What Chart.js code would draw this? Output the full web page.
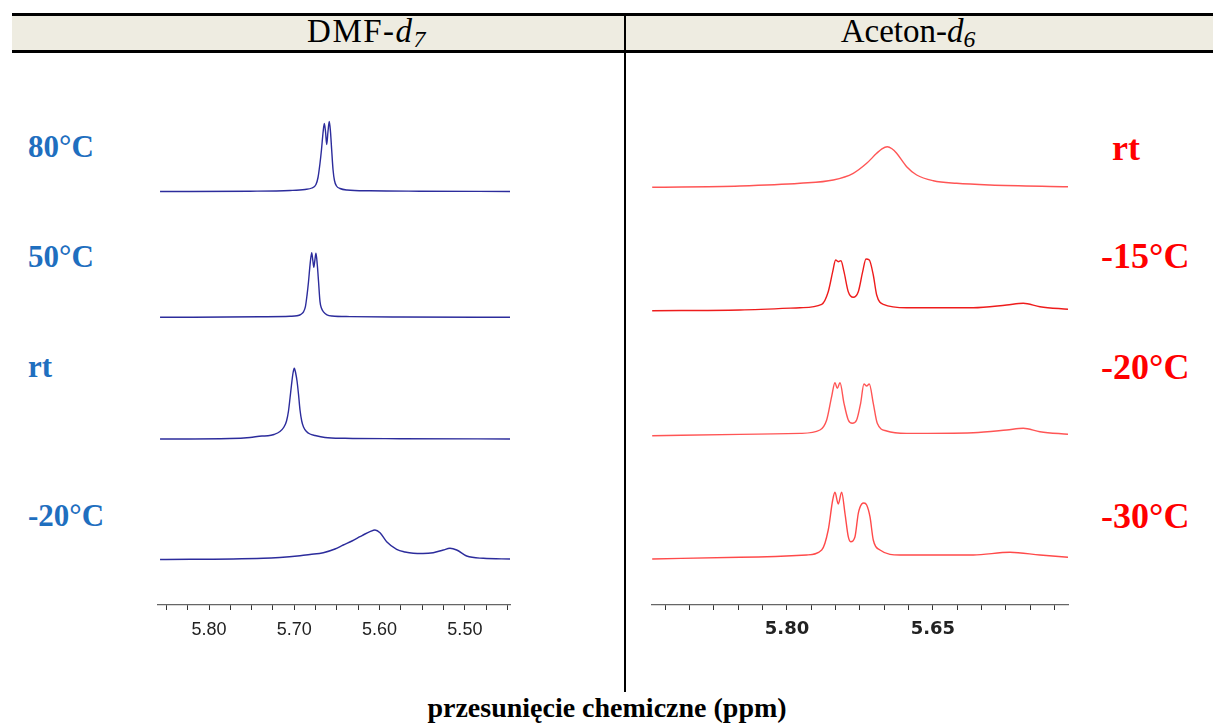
<!DOCTYPE html>
<html>
<head>
<meta charset="utf-8">
<script src="https://cdn.jsdelivr.net/npm/chart.js@4.4.1/dist/chart.umd.min.js"></script>
<style>
  html, body { margin:0; padding:0; background:#fff; }
  body { width:1213px; height:725px; position:relative; overflow:hidden; font-family:'Liberation Serif','Times New Roman',serif; }
  .abs { position:absolute; }
  #hdr { left:12px; top:13px; width:1201px; height:34px; background:#eeece1; border-top:3px solid #000; border-bottom:3px solid #000; }
  #vdiv { left:624px; top:16px; width:2px; height:676px; background:#000; }
  .ht { font-size:33px; line-height:1; color:#000; white-space:nowrap; transform:translateX(-50%); top:15px; }
  .ht sub { font-size:0.72em; vertical-align:-0.2em; line-height:0; }
  .lab { font-weight:bold; line-height:1; white-space:nowrap; }
  .blue { color:#1f6fbf; font-size:31px; }
  .red { color:#ff0000; font-size:36px; }
  #xt { font-weight:bold; font-size:28px; line-height:1; white-space:nowrap; transform:translateX(-50%); left:607px; top:694px; color:#000; }
  canvas { position:absolute; }
</style>
</head>
<body>
<div id="hdr" class="abs"></div>
<div id="vdiv" class="abs"></div>
<div class="abs ht" style="left:367px; letter-spacing:1.5px;">DMF-<i>d</i><sub><i>7</i></sub></div>
<div class="abs ht" style="left:908px;">Aceton-<i>d</i><sub><i>6</i></sub></div>

<div class="abs lab blue" style="left:28px; top:131px;">80°C</div>
<div class="abs lab blue" style="left:28px; top:241px;">50°C</div>
<div class="abs lab blue" style="left:28px; top:351px;">rt</div>
<div class="abs lab blue" style="left:28px; top:500px;">-20°C</div>

<div class="abs lab red" style="left:1112px; top:130px;">rt</div>
<div class="abs lab red" style="left:1101px; top:238px;">-15°C</div>
<div class="abs lab red" style="left:1101px; top:349px;">-20°C</div>
<div class="abs lab red" style="left:1101px; top:498px;">-30°C</div>

<div id="xt" class="abs">przesunięcie chemiczne (ppm)</div>

<canvas id="cL" width="370" height="601" style="left:150px; top:60px;"></canvas>
<canvas id="cR" width="440" height="601" style="left:640px; top:60px;"></canvas>

<script>
// ---------------- DATA ----------------
// DMF-d7 spectra: chemical shift (ppm) and intensity (arbitrary units)
const dmf80_ppm = [5.8574,5.7519,5.7050,5.6875,5.6793,5.6746,5.6722,5.6699,5.6681,5.6664,5.6648,5.6634,5.6620,5.6605,5.6590,5.6576,5.6562,5.6546,5.6529,5.6505,5.6464,5.6382,5.6113,5.5526,5.4471];
const dmf80_int = [0,0.3,1,2,3.5,7,14,28,42,58,68,60,47,60,70,60,42,22,11,5.5,3,1.5,0.7,0.3,0];

const dmf50_ppm = [5.8574,5.7402,5.7050,5.6968,5.6922,5.6892,5.6869,5.6851,5.6834,5.6816,5.6796,5.6783,5.6771,5.6759,5.6746,5.6730,5.6716,5.6699,5.6681,5.6658,5.6617,5.6558,5.6347,5.5761,5.4471];
const dmf50_int = [0,0.5,1,1.5,3,5.5,11,22,35,52,64.5,57,50,57,64,52,36,16,9,5.5,2.5,1.3,0.7,0.3,0];

const dmfRt_ppm = [5.8574,5.7754,5.7519,5.7379,5.7308,5.7238,5.7168,5.7121,5.7091,5.7068,5.7050,5.7033,5.7015,5.7000,5.6984,5.6968,5.6951,5.6933,5.6913,5.6892,5.6857,5.6816,5.6757,5.6640,5.6406,5.5761,5.4471];
const dmfRt_int = [0,0.5,1.5,3,3.2,4.5,7.5,12,18,28,41,54,66,70.7,66,58,45,29,18,12,7.5,5,3.5,1.5,0.7,0.3,0];

const dmfM20_ppm = [5.8574,5.7363,5.6933,5.6816,5.6660,5.6523,5.6426,5.6324,5.6230,5.6171,5.6113,5.6054,5.5995,5.5917,5.5800,5.5702,5.5605,5.5491,5.5371,5.5253,5.5175,5.5096,5.4979,5.4784,5.4471];
const dmfM20_int = [0,1.2,3.8,5,6.8,10.5,14.5,18.5,22.8,25.5,27.8,29.5,26.8,17.8,10.2,7.5,6.2,6,6.8,9.5,11.2,9.5,3.5,1.2,0.5];

// Acetone-d6 spectra
const acRt_ppm = [5.9385,5.8483,5.7866,5.7524,5.7319,5.7181,5.7078,5.7024,5.6969,5.6921,5.6873,5.6770,5.6667,5.6496,5.6256,5.5914,5.5112];
const acRt_int = [0,1.3,4,7.3,14,24,34,38.5,40.6,38.5,34,20.6,12.3,6.6,4,2.3,0.6];

const acM15_ppm = [5.9385,5.8483,5.7866,5.7643,5.7576,5.7530,5.7500,5.7473,5.7445,5.7414,5.7370,5.7319,5.7267,5.7222,5.7188,5.7154,5.7113,5.7078,5.7010,5.6770,5.6085,5.5742,5.5572,5.5400,5.5112];
const acM15_int = [0,0.7,3,6.4,19,39,50.7,49,50,39,19,13.4,19,39,51.7,50.7,35.7,15.7,6.4,3,3,5.7,7.4,4,1.4];

const acM20_ppm = [5.9385,5.8483,5.7866,5.7661,5.7592,5.7541,5.7507,5.7483,5.7455,5.7414,5.7370,5.7329,5.7284,5.7243,5.7209,5.7181,5.7154,5.7113,5.7072,5.6975,5.6770,5.6085,5.5742,5.5572,5.5400,5.5112];
const acM20_int = [0,1.3,2.3,5.7,15.7,39,53,47.4,53,32.4,15.7,12.4,15.7,32.4,51.7,49.7,51.7,32.4,12.4,4.7,2.3,3,5.7,7.4,4,1.4];

const acM30_ppm = [5.9385,5.8483,5.7798,5.7643,5.7576,5.7530,5.7507,5.7473,5.7438,5.7404,5.7370,5.7345,5.7301,5.7267,5.7232,5.7209,5.7181,5.7147,5.7113,5.7044,5.6839,5.6085,5.5708,5.5400,5.5112];
const acM30_int = [0,1.7,4,9,29,59,66.7,55,66.7,45.7,22.3,17.3,22.3,45.7,55,56,54,42.3,19,9,4,4,6.7,4,1.7];

// Axis ticks and labels
const leftTicks  = [5.85,5.825,5.80,5.775,5.75,5.725,5.70,5.675,5.65,5.625,5.60,5.575,5.55,5.525,5.50,5.475,5.45];
const leftTickLabels = ['','','5.80','','','','5.70','','','','5.60','','','','5.50','',''];
const rightTicks = [5.925,5.90,5.875,5.85,5.825,5.80,5.775,5.75,5.725,5.70,5.675,5.65,5.625,5.60,5.575,5.55,5.525];
const rightTickLabels = ['','','','','','5.80','','','','','','5.65','','','','',''];

// ---------------- LAYOUT / STYLE ----------------
const leftRange  = { min: 5.4471, max: 5.8598 };
const rightRange = { min: 5.5112, max: 5.9387 };
const leftOffsets  = [413.5, 287.7, 166, 45.5];   // vertical stacking offsets
const rightOffsets = [417.7, 294.3, 169.3, 46];
const Y_MAX = 515;

function series(ppm, intens, off) {
  return ppm.map((p, i) => ({ x: p, y: intens[i] + off }));
}

function makeChart(id, sets, offsets, colors, range, ticks, labels, pad, tickFont) {
  const datasets = sets.map((s, i) => ({
    data: series(s[0], s[1], offsets[i]),
    borderColor: colors[i],
    borderWidth: 1.4,
    pointRadius: 0,
    fill: false,
    cubicInterpolationMode: 'monotone'
  }));
  return new Chart(document.getElementById(id), {
    type: 'line',
    data: { datasets },
    options: {
      responsive: false,
      animation: false,
      layout: { padding: pad },
      plugins: { legend: { display: false }, tooltip: { enabled: false } },
      scales: {
        x: {
          type: 'linear',
          reverse: true,
          min: range.min,
          max: range.max,
          afterBuildTicks: (axis) => { axis.ticks = ticks.map(v => ({ value: v })); },
          ticks: {
            autoSkip: false,
            maxRotation: 0,
            padding: 9,
            color: '#222',
            font: tickFont,
            callback: (v, i) => labels[i]
          },
          grid: { drawOnChartArea: false, drawTicks: true, tickLength: 5, tickColor: '#333', tickWidth: 1 },
          border: { display: true, color: '#666', width: 1.2 }
        },
        y: { display: false, min: 0, max: Y_MAX }
      }
    }
  });
}

makeChart('cL',
  [[dmf80_ppm, dmf80_int], [dmf50_ppm, dmf50_int], [dmfRt_ppm, dmfRt_int], [dmfM20_ppm, dmfM20_int]],
  leftOffsets,
  ['#2c2c9c', '#2c2c9c', '#2c2c9c', '#2c2c9c'],
  leftRange, leftTicks, leftTickLabels,
  { top: 30, bottom: 11.4, left: 8, right: 10 },
  { family: "'Liberation Sans', Arial, sans-serif", size: 18 }
);

makeChart('cR',
  [[acRt_ppm, acRt_int], [acM15_ppm, acM15_int], [acM20_ppm, acM20_int], [acM30_ppm, acM30_int]],
  rightOffsets,
  ['#ff5555', '#ee1c1c', '#ff5555', '#ff4a4a'],
  rightRange, rightTicks, rightTickLabels,
  { top: 30, bottom: 11.4, left: 12, right: 12 },
  { family: "'DejaVu Sans', Verdana, sans-serif", size: 18, weight: 'bold' }
);
</script>
</body>
</html>
